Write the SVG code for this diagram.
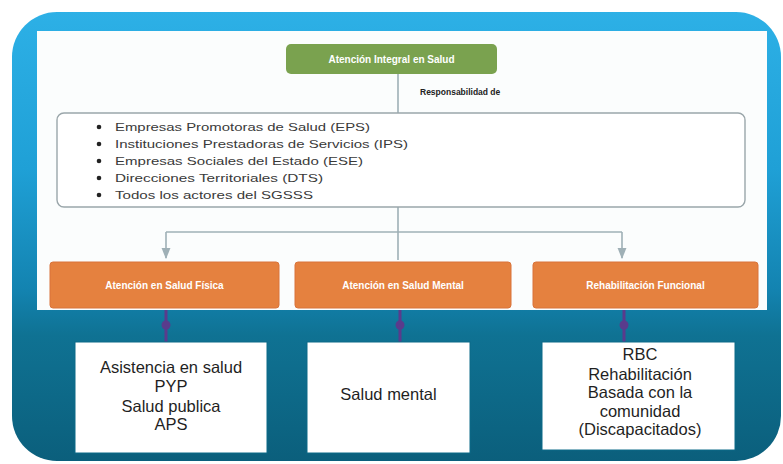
<svg xmlns="http://www.w3.org/2000/svg" width="783" height="464" viewBox="0 0 783 464">
<defs>
<linearGradient id="frame" x1="0" y1="0" x2="0" y2="1">
<stop offset="0" stop-color="#2db0e6"/>
<stop offset="0.35" stop-color="#1fa0d6"/>
<stop offset="0.62" stop-color="#1383b0"/>
<stop offset="0.72" stop-color="#0f7293"/>
<stop offset="1" stop-color="#0b5f7c"/>
</linearGradient>
<marker id="arr" viewBox="0 0 10 10" refX="9" refY="5" markerWidth="7" markerHeight="7" orient="auto">
<path d="M0,1 L10,5 L0,9 z" fill="#9fb0b6"/>
</marker>
<style>
.hdr{font-family:"Liberation Sans",Arial,sans-serif;font-size:10px;font-weight:bold;fill:#fff;text-anchor:middle}
.lst{font-family:"Liberation Sans",Arial,sans-serif;font-size:11px;fill:#3a3a3a}
.bt{font-family:"Liberation Sans",Arial,sans-serif;font-size:16.5px;fill:#1f1f1f;text-anchor:middle}
.orange{fill:#e5813f;stroke:#d9733a;stroke-width:1}
.wbox{fill:#ffffff;stroke:#0d6a88;stroke-width:1}
.conn{stroke:#9fb0b6;stroke-width:1.6;fill:none}
.purple{stroke:#5a3b8c;stroke-width:3;fill:none}
</style>
</defs>
<rect x="12" y="12" width="769" height="449" rx="45" fill="url(#frame)"/>
<rect x="37" y="31" width="730" height="279" fill="#fbfdfd"/>

<g id="connectors">
<line class="conn" x1="398" y1="74" x2="398" y2="113"/>
<line class="conn" x1="398" y1="207" x2="398" y2="232"/>
<line class="conn" x1="166" y1="232" x2="622" y2="232"/>
<line class="conn" x1="166" y1="232" x2="166" y2="258" marker-end="url(#arr)"/>
<line class="conn" x1="398" y1="232" x2="398" y2="260"/>
<line class="conn" x1="622" y1="232" x2="622" y2="258" marker-end="url(#arr)"/>
<line class="purple" x1="166" y1="310" x2="166" y2="342"/>
<circle cx="166" cy="325" r="4.5" fill="#5a3b8c"/>
<line class="purple" x1="400" y1="310" x2="400" y2="342"/>
<circle cx="400" cy="325" r="4.5" fill="#5a3b8c"/>
<line class="purple" x1="624" y1="310" x2="624" y2="342"/>
<circle cx="624" cy="325" r="4.5" fill="#5a3b8c"/>
</g>

<g id="root">
<rect x="286" y="44" width="211" height="30" rx="5" fill="#7aa24f"/>
<text class="hdr" x="391.5" y="63">Atención Integral en Salud</text>
</g>
<text x="420" y="95" font-family="Liberation Sans, Arial, sans-serif" font-size="8.5" font-weight="bold" fill="#222">Responsabilidad de</text>

<g id="actors">
<rect x="57" y="113" width="688" height="94" rx="7" fill="#ffffff" stroke="#9aa6aa" stroke-width="1.4"/>
<circle cx="99" cy="127" r="2.3" fill="#222"/>
<circle cx="99" cy="144" r="2.3" fill="#222"/>
<circle cx="99" cy="161" r="2.3" fill="#222"/>
<circle cx="99" cy="178" r="2.3" fill="#222"/>
<circle cx="99" cy="195" r="2.3" fill="#222"/>
<text class="lst" x="115" y="131" textLength="255" lengthAdjust="spacingAndGlyphs">Empresas Promotoras de Salud (EPS)</text>
<text class="lst" x="115" y="148" textLength="293" lengthAdjust="spacingAndGlyphs">Instituciones Prestadoras de Servicios (IPS)</text>
<text class="lst" x="115" y="165" textLength="248" lengthAdjust="spacingAndGlyphs">Empresas Sociales del Estado (ESE)</text>
<text class="lst" x="115" y="182" textLength="208" lengthAdjust="spacingAndGlyphs">Direcciones Territoriales (DTS)</text>
<text class="lst" x="115" y="199" textLength="198" lengthAdjust="spacingAndGlyphs">Todos los actores del SGSSS</text>
</g>

<g id="fisica">
<rect class="orange" x="50" y="262" width="229" height="46" rx="3"/>
<text class="hdr" x="164.5" y="289">Atención en Salud Física</text>
</g>
<g id="mental">
<rect class="orange" x="295" y="262" width="216" height="46" rx="3"/>
<text class="hdr" x="403" y="289">Atención en Salud Mental</text>
</g>
<g id="funcional">
<rect class="orange" x="533" y="262" width="225" height="46" rx="3"/>
<text class="hdr" x="645.5" y="289">Rehabilitación Funcional</text>
</g>

<g id="box-fisica">
<rect class="wbox" x="75" y="342" width="192" height="111"/>
<text class="bt" x="171" y="373">Asistencia en salud</text>
<text class="bt" x="171" y="392">PYP</text>
<text class="bt" x="171" y="412">Salud publica</text>
<text class="bt" x="171" y="430">APS</text>
</g>
<g id="box-mental">
<rect class="wbox" x="307" y="342" width="163" height="111"/>
<text class="bt" x="388.5" y="400">Salud mental</text>
</g>
<g id="box-rbc">
<rect class="wbox" x="542" y="342" width="193" height="108"/>
<text class="bt" x="640" y="360">RBC</text>
<text class="bt" x="640" y="380">Rehabilitación</text>
<text class="bt" x="640" y="398">Basada con la</text>
<text class="bt" x="640" y="417">comunidad</text>
<text class="bt" x="640" y="435">(Discapacitados)</text>
</g>
</svg>
